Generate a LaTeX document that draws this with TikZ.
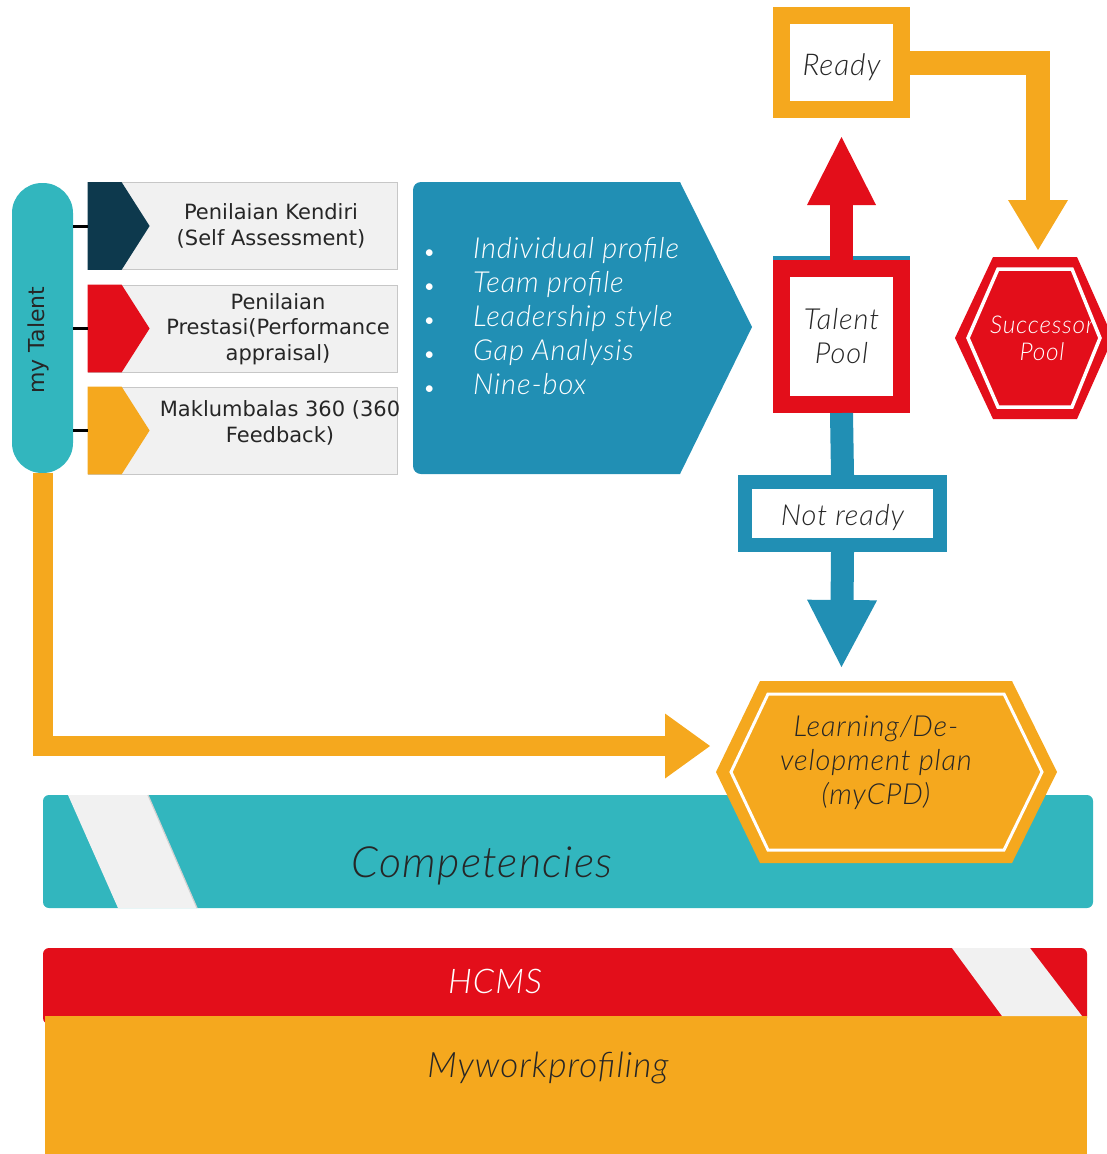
\documentclass[tikz,border=0pt]{standalone}
\usepackage{fontspec}
\setmainfont{Lato}
\newfontfamily\lli[LetterSpace=3]{Lato Light Italic}
\newfontfamily\dvs{DejaVu Sans}
\usetikzlibrary{arrows.meta,calc}
\definecolor{cOr}{RGB}{245,168,30}
\definecolor{cRed}{RGB}{227,14,26}
\definecolor{cTeal}{RGB}{50,182,190}
\definecolor{cBlue}{RGB}{33,143,180}
\definecolor{cNavy}{RGB}{13,57,77}
\definecolor{cGrey}{RGB}{241,241,241}
\definecolor{cText}{RGB}{38,38,38}
\begin{document}
\begin{tikzpicture}[x=1pt,y=-1pt,
  itxt/.style={font=\lli\fontsize{#1}{#1}\selectfont, inner sep=0pt, align=center},
  btext/.style={font=\dvs\fontsize{21}{25.5}\selectfont, text=cText, inner sep=0pt, align=center},
  gbox/.style={fill=cGrey, draw=black!22, line width=0.8pt, minimum width=309pt, minimum height=87pt, inner sep=0pt},
  pill/.style={fill=cTeal, rounded corners=30pt, minimum width=61pt, minimum height=290pt, inner sep=0pt},
  conn/.style={draw=black, line width=3pt},
  framebox/.style={fill=white, inner sep=0pt, text=cText, align=center},
]
\useasboundingbox (0,0) rectangle (1107,1154);

% ---------- bottom layers ----------
\fill[cRed, rounded corners=6pt] (43,948) rectangle (1087,1024);
\fill[cOr] (45,1016) rectangle (1087,1154);
\fill[cGrey] (952,948) -- (1030,948) -- (1082,1016) -- (1002,1016) -- cycle;
\node[itxt=34, text=white] (hcms) at (495,981) {HCMS};
\node[itxt=35, text=cText] (mwp) at (548,1068) {Myworkprofiling};

\fill[cTeal, rounded corners=6pt] (43,795) rectangle (1093,908);
\fill[cGrey] (68,795) -- (148,795) -- (197,908) -- (118,908) -- cycle;
\draw[black!18, line width=1.2pt] (148,795) -- (197,908);
\node[itxt=43, text=cText] (comp) at (482,866) {Competencies};

% ---------- my Talent and assessments ----------
\node[pill] (talent) at (42.5,328) {};
\node[rotate=90, font=\dvs\fontsize{22}{26}\selectfont, text=cText, inner sep=0pt] (talentlbl) at (38,340) {my Talent};

\node[gbox] (b1) at (242.5,226) {};
\node[gbox] (b2) at (242.5,328.5) {};
\node[gbox] (b3) at (242.5,430.5) {};
\foreach \b/\c in {b1/cNavy, b2/cRed, b3/cOr}{
  \fill[\c] (\b.north west) -- ($(\b.north west)+(34,0)$) -- ($(\b.west)+(62,0)$)
     -- ($(\b.south west)+(34,0)$) -- (\b.south west) -- cycle;
}
\node[btext] (t1) at (271,226) {Penilaian Kendiri\\(Self Assessment)};
\node[btext] (t2) at (278,329) {Penilaian\\Prestasi(Performance\\appraisal)};
\node[btext] (t3) at (280,423) {Maklumbalas 360 (360\\Feedback)};

\draw[conn] (talent.east |- b1.west) -- (b1.west);
\draw[conn] (talent.east |- b2.west) -- (b2.west);
\draw[conn] (talent.east |- b3.west) -- (b3.west);

% ---------- analysis pentagon ----------
\fill[cBlue] (546,182) [rounded corners=8pt] -- (413,182) -- (413,474) -- (546,474)
   [sharp corners] -- (680,474) -- (752,327) -- (680,182) -- cycle;
\node[anchor=west, align=left, inner sep=0pt, text=white, font=\lli\fontsize{29}{34}\selectfont] (list) at (424,316)
 {\makebox[49pt][l]{\rmfamily\upshape\fontsize{18}{34}\selectfont •}Individual profile\\
  \makebox[49pt][l]{\rmfamily\upshape\fontsize{18}{34}\selectfont •}Team profile\\
  \makebox[49pt][l]{\rmfamily\upshape\fontsize{18}{34}\selectfont •}Leadership style\\
  \makebox[49pt][l]{\rmfamily\upshape\fontsize{18}{34}\selectfont •}Gap Analysis\\
  \makebox[49pt][l]{\rmfamily\upshape\fontsize{18}{34}\selectfont •}Nine-box};

% ---------- learning hexagon ----------
\coordinate (lpc) at (886,772);
\fill[cOr] ($(lpc)+(-126,-91)$) -- ($(lpc)+(126,-91)$) -- ($(lpc)+(171,0)$) -- ($(lpc)+(126,91)$)
   -- ($(lpc)+(-126,91)$) -- ($(lpc)+(-170,0)$) -- cycle;
\draw[white, line width=3pt] ($(lpc)+(-118,-78)$) -- ($(lpc)+(118,-78)$) -- ($(lpc)+(156,0)$) -- ($(lpc)+(118,78)$)
   -- ($(lpc)+(-118,78)$) -- ($(lpc)+(-155,0)$) -- cycle;
\node[itxt=29, text=cText, font=\lli\fontsize{29}{34}\selectfont] (lp) at (876,763) {Learning/De-\\velopment plan\\(myCPD)};

% ---------- talent pool, ready, not ready ----------
\fill[cBlue] (773,256) rectangle (910,260.5);
\node[framebox, draw=cRed, line width=17pt, minimum width=120pt, minimum height=136pt,
      font=\lli\fontsize{29}{34}\selectfont] (tp) at (841.5,336.5) {Talent\\Pool};
\node[framebox, draw=cOr, line width=17pt, minimum width=120pt, minimum height=94pt,
      font=\lli\fontsize{30}{34}\selectfont] (ready) at (841.5,62.5) {\raisebox{-12.5pt}[0pt][0pt]{Ready}};
\node[framebox, draw=cBlue, line width=14pt, minimum width=195pt, minimum height=63pt,
      font=\lli\fontsize{29}{34}\selectfont] (nr) at (842.5,513.5) {\raisebox{-11.5pt}[0pt][0pt]{Not ready}};

% ---------- successor hexagon ----------
\coordinate (sc) at (1033,338);
\fill[cRed] ($(sc)+(-40,-81)$) -- ($(sc)+(44,-81)$) -- ($(sc)+(80,0)$) -- ($(sc)+(44,81)$)
   -- ($(sc)+(-40,81)$) -- ($(sc)+(-78,0)$) -- cycle;
\draw[white, line width=3.5pt] ($(sc)+(-35,-69)$) -- ($(sc)+(39,-69)$) -- ($(sc)+(67,0)$) -- ($(sc)+(39,69)$)
   -- ($(sc)+(-35,69)$) -- ($(sc)+(-65,0)$) -- cycle;
\node[itxt=24.5, text=white, font=\lli\fontsize{24.5}{27}\selectfont] (succ) at (1042,338) {Successor\\Pool};

% ---------- block arrows ----------
\coordinate (tptip) at (841.5,137);
\coordinate (nrtip) at (841.5,667);
\coordinate (succtip) at (1038,250);
\coordinate (lptip) at (710,746);

\draw[cRed, line width=23pt, -{Triangle[width=69pt,length=68pt,line width=0pt]}] (tp.north) -- (tptip);
\draw[cBlue, line width=23pt] (tp.south) -- (nr.north);
\draw[cBlue, line width=23pt, -{Triangle[width=70pt,length=67pt,line width=0pt]}] (nr.south) -- (nrtip);
\draw[cOr, line width=24pt, -{Triangle[width=60pt,length=50pt,line width=0pt]}] (ready.east) -| (succtip);
\draw[cOr, line width=20pt, -{Triangle[width=65pt,length=45pt,line width=0pt]}] (talent.south) |- (lptip);
\end{tikzpicture}
\end{document}
